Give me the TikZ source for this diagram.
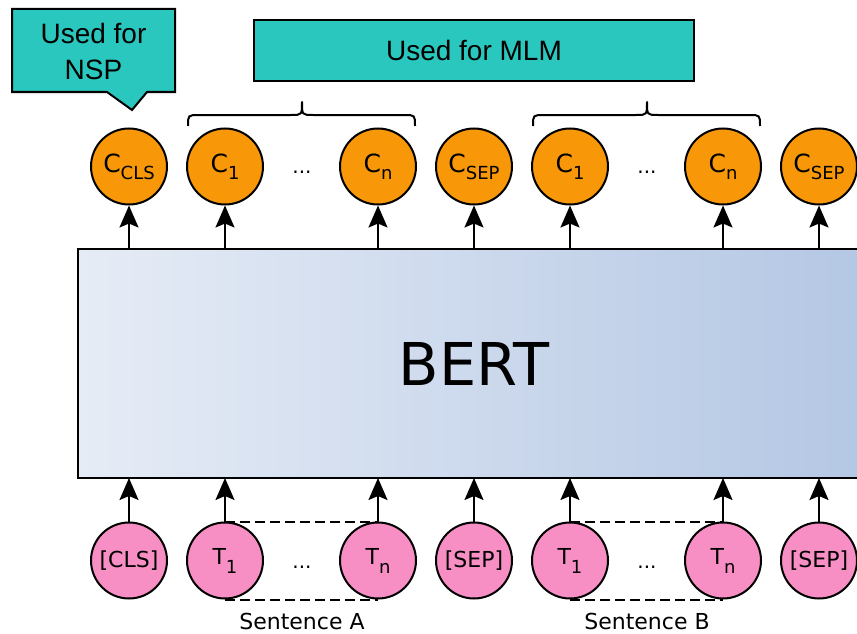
\documentclass[tikz,border=0pt]{standalone}
\usepackage{fontspec}
\setmainfont{DejaVu Sans}
\newfontfamily\calloutfont{Liberation Sans}
\usetikzlibrary{arrows.meta}

\definecolor{tealbox}{RGB}{42,199,190}
\definecolor{tokout}{RGB}{248,152,8}
\definecolor{tokin}{RGB}{247,143,197}
\definecolor{bertleft}{RGB}{230,236,246}
\definecolor{bertright}{RGB}{180,199,228}

% token label with a lowered, smaller subscript
\newcommand\outlbl[2]{#1\raisebox{-7pt}{\fontsize{18}{18}\selectfont #2}}
\newcommand\inlbl[2]{#1\raisebox{-9pt}{\fontsize{18}{18}\selectfont #2}}

\begin{document}
\begin{tikzpicture}[x=1pt,y=-1pt,line width=2pt,
  outtok/.style={circle,draw=black,fill=tokout,minimum size=76pt,inner sep=0pt,
    line width=2pt,font=\fontsize{25}{25}\selectfont},
  intok/.style={circle,draw=black,fill=tokin,minimum size=76pt,inner sep=0pt,
    line width=2pt,font=\fontsize{22}{22}\selectfont},
  uparrow/.style={-{Stealth[length=22pt,width=19pt,inset=4pt]},line width=2pt},
  tealstyle/.style={draw=black,fill=tealbox,line width=2pt},
  calloutlbl/.style={font=\calloutfont\fontsize{28}{36}\selectfont,align=center},
  dots/.style={font=\fontsize{20}{20}\selectfont},
  sentence/.style={font=\fontsize{22}{22}\selectfont},
  sentline/.style={dash pattern=on 10pt off 5pt,line width=2pt},
  bracestyle/.style={line width=2pt,line join=round}
]
\useasboundingbox (0,0) rectangle (857,634);

% BERT block (runs past the right edge)
\coordinate (btop) at (78,249);
\coordinate (bbot) at (78,478);
\fill[left color=bertleft,right color=bertright] (78,249) rectangle (857,478);
\draw[line width=2pt] (857,249) -- (78,249) -- (78,478) -- (857,478);
\node[font=\fontsize{59}{59}\selectfont] (bert) at (474,364) {BERT};

% callouts
\draw[tealstyle] (12,9) -- (175,9) -- (175,92) -- (147,92) -- (132,110) -- (107,92) -- (12,92) -- cycle;
\node[calloutlbl] (nsp) at (93.5,51) {Used for\\NSP};
\node[tealstyle,minimum width=440pt,minimum height=61pt,calloutlbl] (mlm) at (474,50.5) {Used for MLM};

% braces over the MLM outputs
\draw[bracestyle] (188,126) .. controls (188,115) .. (199,115) -- (291,115)
  .. controls (302,115) .. (302,102) .. controls (302,115) .. (313,115) -- (404,115)
  .. controls (415,115) .. (415,126);
\draw[bracestyle] (533,126) .. controls (533,115) .. (544,115) -- (636,115)
  .. controls (647,115) .. (647,102) .. controls (647,115) .. (658,115) -- (749,115)
  .. controls (760,115) .. (760,126);

% output tokens
\node[outtok] (ocls) at (129,166.5) {\outlbl{C}{CLS}};
\node[outtok] (oa1) at (225,166.5) {\outlbl{C}{1}};
\node[dots] (odotsa) at (302,172) {...};
\node[outtok] (oan) at (378,166.5) {\outlbl{C}{n}};
\node[outtok] (osepa) at (474,166.5) {\outlbl{C}{SEP}};
\node[outtok] (ob1) at (570,166.5) {\outlbl{C}{1}};
\node[dots] (odotsb) at (647,172) {...};
\node[outtok] (obn) at (723,166.5) {\outlbl{C}{n}};
\node[outtok] (osepb) at (819,166.5) {\outlbl{C}{SEP}};

% input tokens
\node[intok] (icls) at (129,560.5) {[CLS]};
\node[intok] (ia1) at (225,560.5) {\inlbl{T}{1}};
\node[dots] (idotsa) at (302,567) {...};
\node[intok] (ian) at (378,560.5) {\inlbl{T}{n}};
\node[intok] (isepa) at (474,560.5) {[SEP]};
\node[intok] (ib1) at (570,560.5) {\inlbl{T}{1}};
\node[dots] (idotsb) at (647,567) {...};
\node[intok] (ibn) at (723,560.5) {\inlbl{T}{n}};
\node[intok] (isepb) at (819,560.5) {[SEP]};

% sentence spans
\draw[sentline] (ia1.north) -- (ian.north);
\draw[sentline] (ia1.south) -- (ian.south);
\draw[sentline] (ib1.north) -- (ibn.north);
\draw[sentline] (ib1.south) -- (ibn.south);
\node[sentence] (senta) at (302,621) {Sentence A};
\node[sentence] (sentb) at (647,621) {Sentence B};

% arrows into and out of BERT
\foreach \n in {ocls,oa1,oan,osepa,ob1,obn,osepb}
  \draw[uparrow] (\n.south |- btop) -- (\n.south);
\foreach \n in {icls,ia1,ian,isepa,ib1,ibn,isepb}
  \draw[uparrow] (\n.north) -- (\n.north |- bbot);
\end{tikzpicture}
\end{document}
